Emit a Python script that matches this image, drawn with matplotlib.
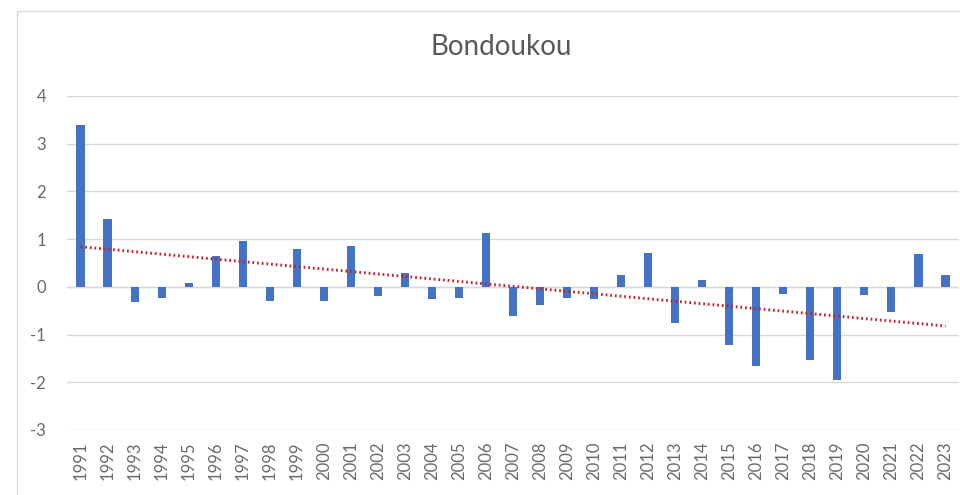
import numpy as np
import matplotlib.pyplot as plt
from matplotlib.patches import Rectangle

# anomalies
years = list(range(1991, 2024))
values = [3.40, 1.43, -0.32, -0.24, 0.08, 0.65, 0.97, -0.29, 0.79, -0.29,
          0.86, -0.20, 0.29, -0.26, -0.24, 1.12, -0.61, -0.38, -0.24, -0.26,
          0.25, 0.71, -0.75, 0.14, -1.21, -1.65, -0.15, -1.53, -1.96, -0.18,
          -0.52, 0.68, 0.25]
yticks = [-3, -2, -1, 0, 1, 2, 3, 4]

plt.rcParams['font.family'] = ['Lato', 'DejaVu Sans']

W, H = 960, 495
fig = plt.figure(figsize=(W / 100, H / 100), dpi=100)

# chart border (Excel chart area)
fig.patches.append(Rectangle((17 / W, -0.1), 1.2, (H - 11) / H + 0.1,
                             transform=fig.transFigure, fill=False,
                             edgecolor='#D9D9D9', linewidth=1.0))

ax = fig.add_axes([67 / W, 65 / H, 892 / W, 334 / H])
x = np.arange(len(years))

ax.bar(x, values, width=0.3, color='#4472C4', zorder=3)

# linear trendline
slope, icpt = np.polyfit(x, values, 1)
ax.plot(x, slope * x + icpt, linestyle=(0, (0.6, 1.0)), color='#C0262C',
        linewidth=2.1, dash_capstyle='butt', zorder=4)

ax.set_xlim(-0.5, len(years) - 0.5)
ax.set_ylim(-3, 4)
ax.set_yticks(yticks)
ax.set_yticklabels([str(t) for t in yticks])
ax.set_xticks(x)
ax.set_xticklabels([str(y) for y in years], rotation=90)
ax.grid(axis='y', color='#D9D9D9', linewidth=1.0, zorder=0)
ax.axhline(0, color='#D9D9D9', linewidth=1.0, zorder=1)

for s in ax.spines.values():
    s.set_visible(False)
ax.tick_params(axis='both', length=0, colors='#6A6A6A', labelsize=12)
ax.tick_params(axis='y', pad=15)
ax.tick_params(axis='x', pad=8)

fig.text(501 / W, 1 - 47 / H, 'Bondoukou', ha='center', va='center',
         fontsize=20, color='#595959')

fig.savefig('out.png', dpi=100, facecolor='white')
